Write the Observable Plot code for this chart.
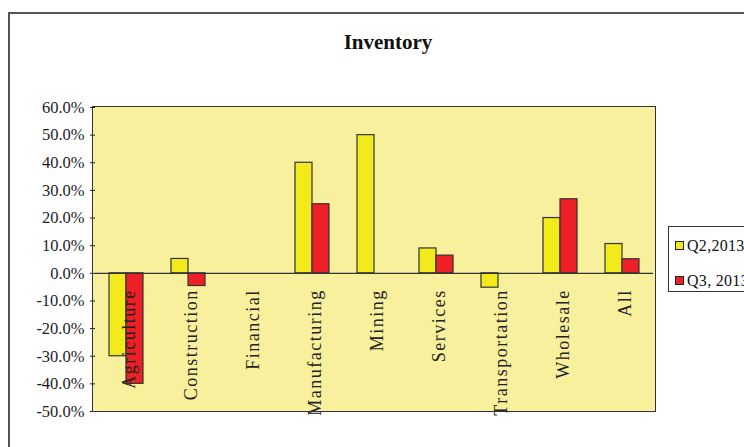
<!DOCTYPE html>
<html>
<head>
<meta charset="utf-8">
<script src="https://cdn.jsdelivr.net/npm/d3@7"></script>
<script src="https://cdn.jsdelivr.net/npm/@observablehq/plot@0.6"></script>
<style>
  html, body { margin: 0; padding: 0; background: #fff; }
  #wrap { position: relative; width: 744px; height: 447px; overflow: hidden; background: #fff; font-family: "Liberation Serif", "DejaVu Serif", serif; }
  #border { position: absolute; left: 8px; top: 12px; width: 800px; height: 500px; border-left: 2px solid #555; border-top: 2px solid #555; }
  #title { position: absolute; left: 0; width: 776px; top: 32px; text-align: center; font-size: 21px; line-height: 21px; font-weight: bold; color: #111; }
  #chart { position: absolute; left: 0; top: 0; }
  #chart g[aria-label="text"] text { letter-spacing: 1.5px; }
  #plotbg { position: absolute; background: #f8f09c; }
  #outline { position: absolute; box-sizing: border-box; border: 1.5px solid #333; pointer-events: none; }
  #legend { position: absolute; left: 668px; top: 226px; width: 100px; height: 66px; box-sizing: border-box; border: 1px solid #333; background: #fff; }
  .item { position: absolute; left: 6px; font-size: 16px; letter-spacing: 0.3px; color: #111; white-space: nowrap; line-height: 16px; }
  .sw { display: inline-block; width: 7px; height: 7px; border: 1px solid #222; margin-right: 3px; vertical-align: 1px; }
</style>
</head>
<body>
<div id="wrap">
  <div id="border"></div>
  <div id="title">Inventory</div>
  <div id="plotbg"></div>
  <div id="chart"></div>
  <div id="outline"></div>
  <div id="legend"></div>
</div>
<script>
const categories = ["Agriculture", "Construction", "Financial", "Manufacturing", "Mining", "Services", "Transportation", "Wholesale", "All"];
const seriesNames = ["Q2,2013", "Q3, 2013"];
const q2Values = [-30, 5.2, null, 40, 50, 9, -5.2, 20, 10.6];
const q3Values = [-40, -4.6, null, 25, null, 6.4, null, 26.8, 5.1];
const yTicks = [-50, -40, -30, -20, -10, 0, 10, 20, 30, 40, 50, 60];
const seriesColors = ["#f2ea1b", "#ee2027"];

const rows = [];
categories.forEach((c, i) => {
  if (q2Values[i] != null) rows.push({category: c, series: seriesNames[0], value: q2Values[i]});
  if (q3Values[i] != null) rows.push({category: c, series: seriesNames[1], value: q3Values[i]});
});

const W = 744, H = 447;
const M = {top: 107, right: 89, bottom: 36, left: 93};
const facetWidth = (W - M.left - M.right) / categories.length;

const chart = Plot.plot({
  width: W, height: H,
  marginTop: M.top, marginRight: M.right, marginBottom: M.bottom, marginLeft: M.left,
  style: {background: "transparent", fontFamily: "'Liberation Serif', serif", fontSize: "16.5px", color: "#1c1c28", overflow: "visible"},
  fx: {domain: categories, padding: 0, axis: null},
  x: {domain: seriesNames, paddingInner: 0, paddingOuter: 0.76, axis: null},
  y: {domain: [-50, 60], ticks: yTicks, tickFormat: d => d.toFixed(1) + "%", tickSize: 5, tickPadding: 6, label: null},
  color: {domain: seriesNames, range: seriesColors},
  marks: [
    Plot.barY(rows, {fx: "category", x: "series", y: "value", fill: "series", stroke: "#333", strokeWidth: 1.2}),
    Plot.ruleY([0], {stroke: "#333", strokeWidth: 1.2}),
    Plot.ruleX(categories, {fx: d => d, y1: 0, y2: -1.8, dx: -facetWidth / 2, stroke: "#333", strokeWidth: 1.2}),
    Plot.text(categories, {fx: d => d, text: d => d, y: 0, rotate: -90, textAnchor: "end", lineAnchor: "middle", dy: 16, dx: 3, fontSize: 18, fill: "#222"})
  ]
});
document.getElementById("chart").appendChild(chart);

for (const id of ["plotbg", "outline"]) {
  const o = document.getElementById(id);
  o.style.left = (M.left - 0.75) + "px";
  o.style.top = (M.top - 0.75) + "px";
  o.style.width = (W - M.left - M.right + 1.5) + "px";
  o.style.height = (H - M.top - M.bottom + 1.5) + "px";
}

const legend = document.getElementById("legend");
seriesNames.forEach((s, i) => {
  const it = document.createElement("div");
  it.className = "item";
  it.style.top = (11 + i * 35) + "px";
  it.innerHTML = `<span class="sw" style="background:${seriesColors[i]}"></span>${s}`;
  legend.appendChild(it);
});
</script>
</body>
</html>
